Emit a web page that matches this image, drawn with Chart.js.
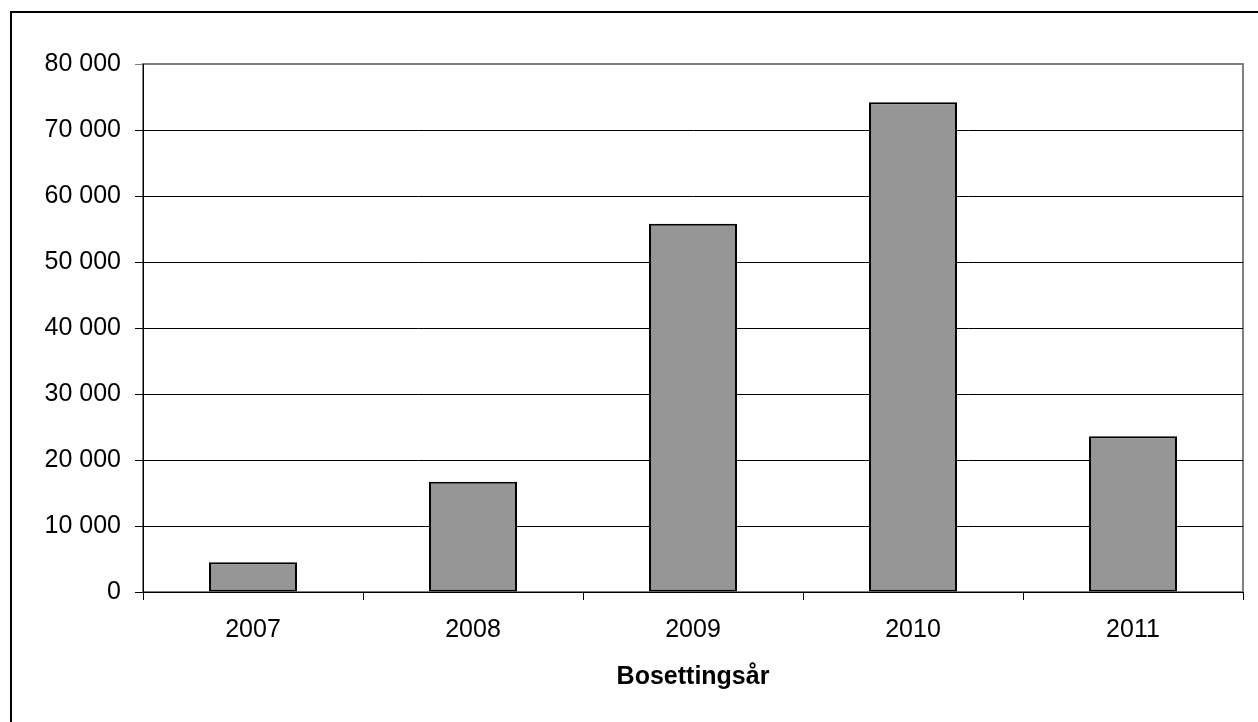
<!DOCTYPE html>
<html lang="no">
<head>
<meta charset="UTF-8">
<title>Bosettingsår</title>
<script src="https://cdn.jsdelivr.net/npm/chart.js@4/dist/chart.umd.min.js"></script>
<style>
  html, body { margin: 0; padding: 0; background: #fff; }
  #wrap { width: 1258px; height: 722px; position: relative; overflow: hidden; }
</style>
</head>
<body>
<div id="wrap"><canvas id="chart" width="1258" height="722"></canvas></div>
<script>
// Data
const years = ['2007', '2008', '2009', '2010', '2011'];
const persons = [4500, 16700, 55800, 74200, 23600];
const yTicks = [0, 10000, 20000, 30000, 40000, 50000, 60000, 70000, 80000];
const xTitle = 'Bosettingsår';

// thousands separated by a space, e.g. 80 000
function fmt(v) {
  return String(v).replace(/\B(?=(\d{3})+(?!\d))/g, ' ');
}

// outer frame and grey plot-area border
const framePlugin = {
  id: 'frame',
  beforeDraw(chart) {
    const ctx = chart.ctx;
    const a = chart.chartArea;
    ctx.save();
    ctx.fillStyle = '#fff';
    ctx.fillRect(0, 0, chart.width, chart.height);
    ctx.strokeStyle = '#000';
    ctx.lineWidth = 2;
    ctx.strokeRect(11, 12, chart.width + 20, chart.height + 20);
    ctx.strokeStyle = '#808080';
    ctx.lineWidth = 2;
    ctx.strokeRect(a.left, a.top, a.right - a.left, a.bottom - a.top);
    ctx.restore();
  }
};

const font = 'Liberation Sans, Arial, sans-serif';

new Chart(document.getElementById('chart'), {
  type: 'bar',
  data: {
    labels: years,
    datasets: [{
      data: persons,
      backgroundColor: '#969696',
      borderColor: '#000',
      borderWidth: 2,
      borderSkipped: false,
      categoryPercentage: 1,
      barPercentage: 0.4
    }]
  },
  options: {
    responsive: false,
    animation: false,
    devicePixelRatio: 1,
    layout: { padding: { top: 64, right: 15, bottom: 0, left: 0 } },
    plugins: {
      legend: { display: false },
      tooltip: { enabled: false }
    },
    scales: {
      x: {
        grid: {
          offset: true,
          drawOnChartArea: false,
          drawTicks: true,
          tickLength: 8,
          color: '#000'
        },
        border: { display: true, color: '#000', width: 1 },
        ticks: {
          color: '#000',
          padding: 15,
          font: { family: font, size: 25 }
        },
        title: {
          display: true,
          text: xTitle,
          color: '#000',
          padding: { top: 10, bottom: 30 },
          font: { family: font, size: 25, weight: 'bold' }
        },
        afterFit(scale) { scale.height = 130; }
      },
      y: {
        min: 0,
        max: 80000,
        afterBuildTicks(scale) { scale.ticks = yTicks.map(v => ({ value: v })); },
        grid: {
          color: ctx => (ctx.tick && ctx.tick.value === 80000) ? '#808080' : '#000',
          lineWidth: 1,
          tickLength: 8,
          drawTicks: true
        },
        border: { display: true, color: '#000', width: 1 },
        ticks: {
          color: '#000',
          padding: 14,
          callback: v => fmt(v),
          font: { family: font, size: 25 }
        },
        afterFit(scale) { scale.width = 143; }
      }
    }
  },
  plugins: [framePlugin]
});
</script>
</body>
</html>
